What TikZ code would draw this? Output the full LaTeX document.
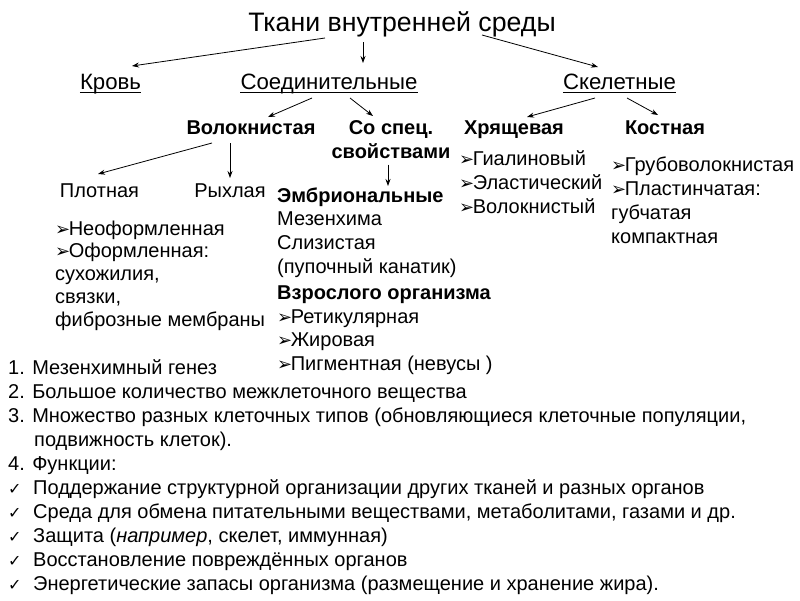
\documentclass[tikz,border=0pt]{standalone}
\usepackage{fontspec}
\setmainfont{Liberation Sans}
\newfontfamily\symfont{DejaVu Sans}
\usetikzlibrary{arrows.meta}

\newcommand\bul{{\symfont\fontsize{18}{18}\selectfont ➢}\kern-1.5pt}
\newcommand\chk{\makebox[25pt][l]{\symfont\fontsize{16}{16}\selectfont ✓}}
\newcommand\lnstrut{\rule{0pt}{16pt}}

\begin{document}
\begin{tikzpicture}[
        x=1pt, y=-1pt,
        ttl/.style={inner sep=0pt, anchor=base, font=\fontsize{26.7}{30}\selectfont},
        grp/.style={
            inner sep=0pt, anchor=base, font=\fontsize{22.2}{26}\selectfont,
            append after command={([yshift=-3pt]\tikzlastnode.base west) edge[line width=1.2pt] ([yshift=-3pt]\tikzlastnode.base east)}
        },
        kind/.style={inner sep=0pt, anchor=base, font=\bfseries\fontsize{20}{24}\selectfont},
        sub/.style={inner sep=0pt, anchor=base, font=\fontsize{20}{24}\selectfont},
        items/.style={inner sep=0pt, anchor=north west, align=left, font=\fontsize{20}{#1}\selectfont},
        items/.default=24,
        conn/.style={-{Stealth[length=7pt,width=5pt]}, line width=0.8pt}
    ]

    \fill[white] (0,0) rectangle (800,600);
    \useasboundingbox (0,0) rectangle (800,600);

    % Заголовок и группы тканей
    \node[ttl] (title) at (402,31) {Ткани внутренней среды};
    \node[grp] (krov) at (110.5,89.5) {Кровь};
    \node[grp] (soed) at (329,89.5) {Соединительные};
    \node[grp] (skel) at (619.5,89.5) {Скелетные};

    % Виды
    \node[kind] (volok) at (251,134) {Волокнистая};
    \node[kind, anchor=north, align=center] (spec) at (391,118) {\lnstrut Со спец.\\свойствами};
    \node[kind] (hrya) at (514,134) {Хрящевая};
    \node[kind] (kost) at (665,134) {Костная};
    \node[sub] (plot) at (99.5,197) {Плотная};
    \node[sub] (ryh) at (230,197) {Рыхлая};

    % Списки
    \node[items=22.75] (plotlist) at (55,219) {\lnstrut\bul Неоформленная\\ \bul Оформленная:\\ сухожилия,\\ связки,\\ фиброзные мембраны};
    \node[items=23.6] (emb) at (277,186) {\lnstrut\textbf{Эмбриональные}\\ Мезенхима\\ Слизистая\\ (пупочный канатик)\\[3pt] \textbf{Взрослого организма}\\ \bul Ретикулярная\\ \bul Жировая\\ \bul Пигментная (невусы )};
    \node[items] (hyal) at (459,149) {\lnstrut\bul Гиалиновый\\ \bul Эластический\\ \bul Волокнистый};
    \node[items] (kostlist) at (611,155.5) {\lnstrut\bul Грубоволокнистая\\ \bul Пластинчатая:\\ губчатая\\ компактная};

    % Общие свойства
    \node[items] (props) at (8,358) {\lnstrut 1. Мезенхимный генез\\ 2. Большое количество межклеточного вещества\\ 3. Множество разных клеточных типов (обновляющиеся клеточные популяции,\\ \hspace*{26pt}подвижность клеток).\\ 4. Функции:\\ \chk Поддержание структурной организации других тканей и разных органов\\ \chk Среда для обмена питательными веществами, метаболитами, газами и др.\\ \chk Защита (\textit{например}, скелет, иммунная)\\ \chk Восстановление повреждённых органов\\ \chk Энергетические запасы организма (размещение и хранение жира).};

    % Стрелки
    \draw[conn] ([xshift=-77pt,yshift=-7pt]title.base) -- ([xshift=21.5pt,yshift=23.5pt]krov.base);
    \draw[conn] ([xshift=-39pt,yshift=-11pt]title.base) -- ([xshift=34pt,yshift=26.5pt]soed.base);
    \draw[conn] ([xshift=80pt,yshift=-4pt]title.base) -- ([xshift=-21.5pt,yshift=22.5pt]skel.base);
    \draw[conn] ([xshift=-17pt,yshift=-8.5pt]soed.base) -- ([xshift=17pt,yshift=17pt]volok.base);
    \draw[conn] ([xshift=21pt,yshift=-8.5pt]soed.base) -- ([xshift=-18pt,yshift=2pt]spec.north);
    \draw[conn] ([xshift=-24.5pt,yshift=-8.5pt]skel.base) -- ([xshift=13pt,yshift=17pt]hrya.base);
    \draw[conn] ([xshift=7.5pt,yshift=-8.5pt]skel.base) -- ([xshift=-7pt,yshift=19pt]kost.base);
    \draw[conn] ([xshift=-39pt,yshift=-9pt]volok.base) -- ([xshift=-1.5pt,yshift=23pt]plot.base);
    \draw[conn] ([xshift=-21pt,yshift=-9pt]volok.base) -- ([yshift=19pt]ryh.base);
    \draw[conn] ([xshift=-3pt,yshift=-6pt]spec.south) -- ([xshift=-3pt]spec.south |- emb.north);

\end{tikzpicture}
\end{document}
